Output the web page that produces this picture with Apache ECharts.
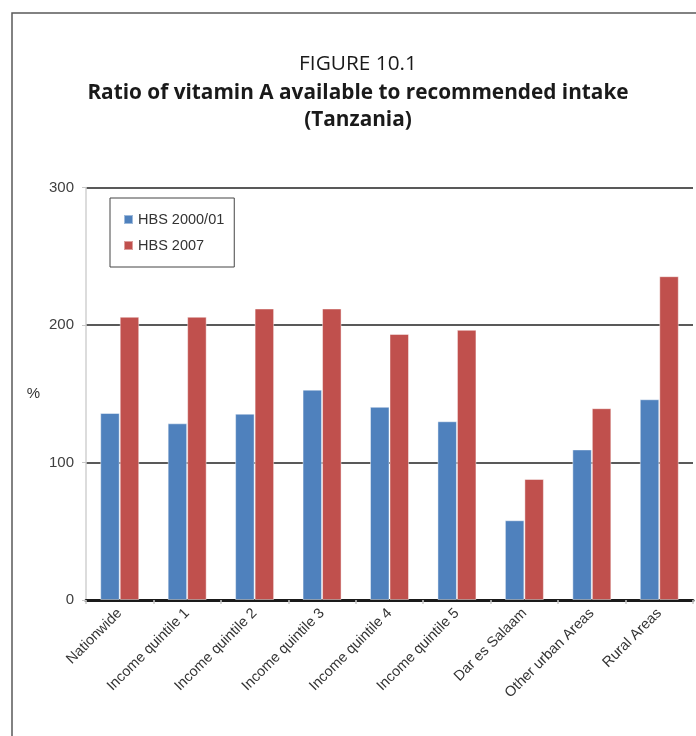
<!DOCTYPE html>
<html>
<head>
<meta charset="utf-8">
<script src="https://cdn.jsdelivr.net/npm/echarts@6/dist/echarts.min.js"></script>
<style>
html,body{margin:0;padding:0;background:#fff;}
#chart{width:696px;height:736px;}
</style>
</head>
<body>
<div id="chart"></div>
<script>
var categories = ['Nationwide','Income quintile 1','Income quintile 2','Income quintile 3','Income quintile 4','Income quintile 5','Dar es Salaam','Other urban Areas','Rural Areas'];
var seriesNames = ['HBS 2000/01','HBS 2007'];
var hbs2000 = [136, 128.5, 135.5, 153, 140.5, 130, 58, 109.5, 146];
var hbs2007 = [206, 206, 212, 212, 193.5, 196.5, 88, 139.5, 235.5];
var yTicks = {min: 0, max: 300, interval: 100};
var titleLines = ['FIGURE 10.1', 'Ratio of vitamin A available to recommended intake', '(Tanzania)'];
var yName = '%';

var narrow = "'Liberation Sans Narrow','Arial Narrow','Liberation Sans',sans-serif";
var titleFont = "'Open Sans','Noto Sans',sans-serif";

var chart = echarts.init(document.getElementById('chart'), null, {renderer: 'canvas'});
chart.setOption({
  animation: false,
  backgroundColor: '#fff',
  graphic: [
    {type: 'rect', shape: {x: 12, y: 13, width: 700, height: 760}, style: {fill: 'none', stroke: '#5a5a5a', lineWidth: 1.5}, silent: true},
    {type: 'text', x: 358, y: 64, style: {text: titleLines[0], textAlign: 'center', textVerticalAlign: 'middle', font: "normal 20.8px " + titleFont, fill: '#1a1a1a'}},
    {type: 'text', x: 358, y: 93, style: {text: titleLines[1], textAlign: 'center', textVerticalAlign: 'middle', font: "bold 20.8px " + titleFont, fill: '#1a1a1a'}},
    {type: 'text', x: 358, y: 120, style: {text: titleLines[2], textAlign: 'center', textVerticalAlign: 'middle', font: "bold 20.8px " + titleFont, fill: '#1a1a1a'}}
  ],
  legend: {
    orient: 'vertical',
    left: 110, top: 198,
    padding: [13, 10, 13, 13],
    borderColor: '#444', borderWidth: 1,
    itemWidth: 9, itemHeight: 9, itemGap: 9,
    icon: 'rect',
    textStyle: {fontFamily: narrow, fontSize: 14.5, lineHeight: 17, color: '#333'},
    data: seriesNames
  },
  grid: {left: 86, right: 3, top: 187.5, bottom: 136, containLabel: false},
  xAxis: {
    type: 'category',
    data: categories,
    axisLine: {lineStyle: {color: '#1a1a1a', width: 3}},
    axisTick: {show: true, length: 4, lineStyle: {color: '#c8c8c8', width: 1.5}},
    axisLabel: {rotate: 45, fontFamily: narrow, fontSize: 14.5, color: '#333', margin: 11, interval: 0}
  },
  yAxis: {
    type: 'value',
    min: yTicks.min, max: yTicks.max, interval: yTicks.interval,
    name: yName,
    nameLocation: 'middle',
    nameRotate: 0,
    nameGap: 46,
    nameTextStyle: {fontFamily: narrow, fontSize: 15, color: '#333'},
    axisLine: {show: true, lineStyle: {color: '#d0d0d0', width: 1.5}},
    axisTick: {show: true, length: 4, lineStyle: {color: '#c8c8c8'}},
    axisLabel: {fontFamily: narrow, fontSize: 15, color: '#404040', margin: 12},
    splitLine: {show: true, lineStyle: {color: '#222', width: 1.5}}
  },
  series: [
    {name: seriesNames[0], type: 'bar', data: hbs2000, barWidth: 19.5, barGap: '0%',
     itemStyle: {color: '#4F81BD', borderColor: 'rgba(255,255,255,0.45)', borderWidth: 1}},
    {name: seriesNames[1], type: 'bar', data: hbs2007, barWidth: 19.5, barGap: '0%',
     itemStyle: {color: '#C0504D', borderColor: 'rgba(255,255,255,0.45)', borderWidth: 1}}
  ]
});
</script>
</body>
</html>
